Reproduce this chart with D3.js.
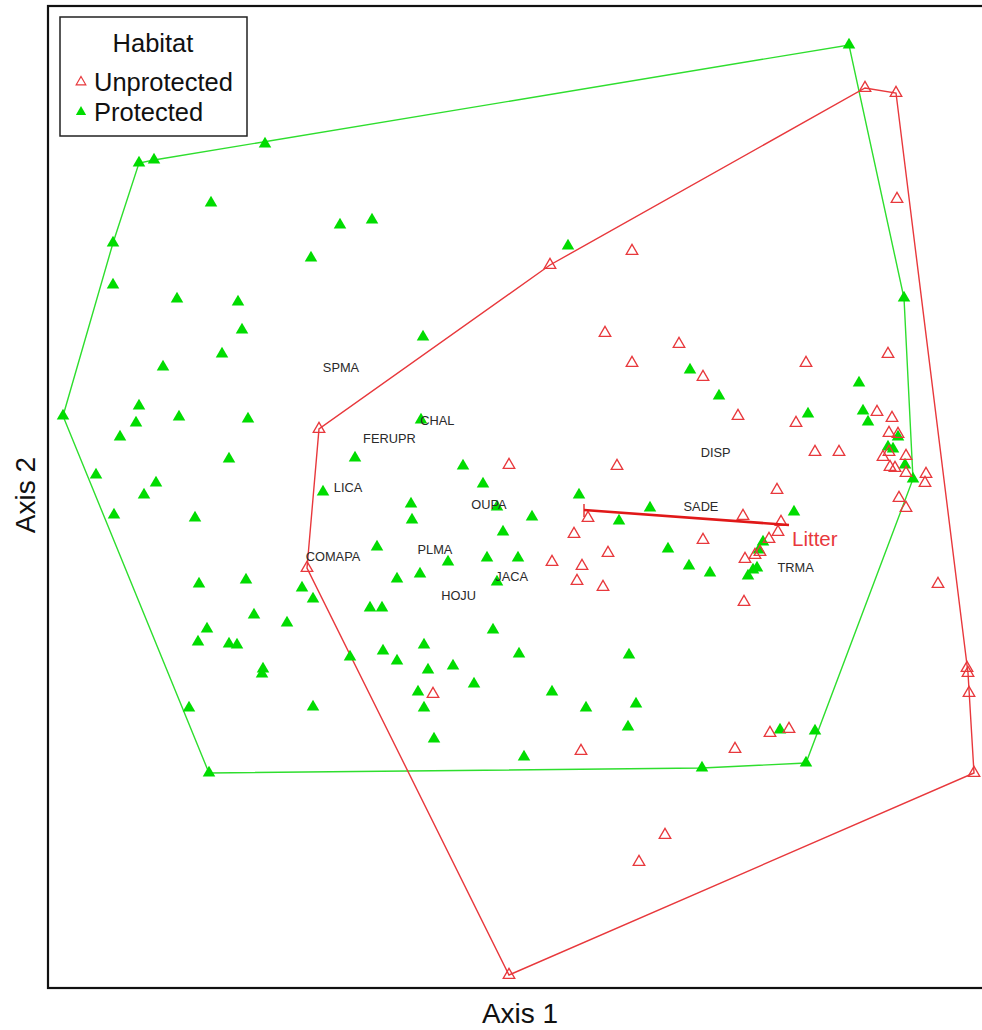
<!DOCTYPE html>
<html>
<head>
<meta charset="utf-8">
<script src="https://cdn.jsdelivr.net/npm/d3@7"></script>
<style>
  html, body { margin: 0; padding: 0; background: #ffffff; }
  svg { display: block; }
</style>
</head>
<body>
<script>
// Site scores on the two ordination axes, by habitat group.
const protectedScores = [
  [-1.545, 1.715], [-1.47, 1.73], [-0.915, 1.81], [2.005, 2.305], [-1.185, 1.515],
  [-1.675, 1.315], [-0.685, 1.24], [-0.54, 1.405], [-0.38, 1.43], [0.6, 1.3],
  [-1.675, 1.105], [-1.355, 1.035], [-1.05, 1.02], [-1.03, 0.88], [-1.13, 0.76],
  [-1.425, 0.695], [-0.125, 0.845], [-1.545, 0.5], [-1.56, 0.415], [-1.345, 0.445],
  [-1.0, 0.435], [-1.925, 0.45], [-1.64, 0.345], [-1.095, 0.235], [-1.76, 0.155],
  [-1.46, 0.115], [-1.52, 0.055], [-1.67, -0.045], [-1.265, -0.06], [-0.625, 0.07],
  [-1.245, -0.39], [-1.01, -0.37], [-0.73, -0.41], [-0.675, -0.465], [-0.97, -0.545],
  [-0.805, -0.585], [-1.205, -0.615], [-1.25, -0.68], [-1.095, -0.69], [-1.055, -0.695],
  [-0.135, 0.43], [-0.465, 0.24], [0.075, 0.2], [0.175, 0.11], [0.655, 0.055],
  [-0.185, 0.01], [0.245, -0.005], [1.01, -0.01], [0.42, -0.055], [-0.18, -0.07],
  [0.855, -0.075], [0.275, -0.13], [-0.355, -0.205], [0.0, -0.28], [0.195, -0.26],
  [0.35, -0.26], [-0.255, -0.365], [-0.14, -0.34], [0.245, -0.38], [-0.39, -0.51],
  [-0.33, -0.51], [0.225, -0.62], [-0.49, -0.755], [-0.325, -0.725], [-0.12, -0.695],
  [-0.255, -0.775], [0.355, -0.74], [0.905, -0.745], [-0.1, -0.82], [0.025, -0.8],
  [0.13, -0.89], [-0.15, -0.93], [-0.12, -1.01], [-0.07, -1.165], [0.52, -0.93],
  [0.69, -1.01], [0.94, -0.99], [0.9, -1.105], [0.38, -1.255], [-0.925, -0.815],
  [-0.93, -0.84], [-1.295, -1.01], [-0.675, -1.005], [-1.195, -1.335], [1.21, 0.68],
  [1.355, 0.55], [2.055, 0.615], [1.8, 0.46], [2.075, 0.475], [2.1, 0.42],
  [2.2, 0.295], [2.25, 0.345], [2.285, 0.205], [2.325, 0.135], [2.28, 1.04],
  [1.73, -0.03], [1.1, -0.215], [1.205, -0.3], [1.31, -0.335], [1.575, -0.18],
  [1.555, -0.22], [1.545, -0.31], [1.525, -0.32], [1.5, -0.35], [1.66, -1.12],
  [1.835, -1.125], [1.27, -1.31], [1.79, -1.285], [2.225, 0.285]
];

const unprotectedScores = [
  [2.085, 2.09], [2.24, 2.065], [2.245, 1.535], [0.51, 1.205], [0.92, 1.275],
  [0.785, 0.865], [0.92, 0.715], [1.155, 0.81], [1.275, 0.645], [1.79, 0.715],
  [2.2, 0.76], [1.45, 0.45], [1.74, 0.415], [2.145, 0.47], [2.22, 0.44],
  [2.205, 0.365], [2.25, 0.36], [1.835, 0.27], [1.955, 0.27], [2.205, 0.27],
  [2.175, 0.245], [2.21, 0.195], [2.235, 0.19], [2.29, 0.25], [2.29, 0.165],
  [2.39, 0.16], [2.385, 0.115], [2.255, 0.04], [2.29, -0.01], [-0.645, 0.385],
  [-0.705, -0.31], [0.305, 0.205], [0.845, 0.2], [0.7, -0.06], [0.63, -0.14],
  [0.8, -0.235], [0.52, -0.28], [0.67, -0.3], [0.645, -0.375], [0.775, -0.405],
  [1.645, 0.08], [1.475, -0.05], [1.665, -0.08], [1.65, -0.13], [1.605, -0.165],
  [1.56, -0.23], [1.535, -0.245], [1.485, -0.265], [1.275, -0.17], [1.48, -0.48],
  [2.45, -0.39], [-0.075, -0.94], [0.665, -1.225], [1.435, -1.215], [1.61, -1.135],
  [1.705, -1.115], [1.085, -1.645], [0.955, -1.78], [0.305, -2.345], [2.6, -0.835],
  [2.605, -0.935], [2.63, -1.335], [2.595, -0.81]
];

// Species centroids shown as text.
const speciesNames = ["SPMA", "CHAL", "FERUPR", "LICA", "OUPA", "PLMA",
                      "JACA", "HOJU", "COMAPA", "DISP", "SADE", "TRMA"];
const speciesX = [-0.535, -0.053, -0.293, -0.5, 0.205, -0.065,
                  0.318, 0.053, -0.575, 1.338, 1.265, 1.738];
const speciesY = [0.695, 0.43, 0.34, 0.095, 0.01, -0.215,
                  -0.35, -0.445, -0.25, 0.27, 0.0, -0.305];

// Environmental joint-plot vector: origin and tip.
const vectorName = "Litter";
const vectorFrom = [0.68, -0.02];
const vectorTo = [1.705, -0.095];

const groups = ["Unprotected", "Protected"];

const W = 982, H = 1030;
const plot = { left: 48, right: 983, top: 6, bottom: 988 };

const x = d3.scaleLinear().domain([-2, 2.675]).range([plot.left, plot.right]);
const y = d3.scaleLinear().domain([-2.41, 2.5]).range([plot.bottom, plot.top]);

const green = "#2ede2e";
const red = "#e8383c";

const svg = d3.select("body").append("svg")
  .attr("width", W).attr("height", H)
  .style("font-family", "'Liberation Sans', Arial, sans-serif");

svg.append("defs").append("clipPath").attr("id", "plotclip")
  .append("rect")
  .attr("x", plot.left).attr("y", plot.top)
  .attr("width", plot.right - plot.left).attr("height", plot.bottom - plot.top);

const g = svg.append("g").attr("clip-path", "url(#plotclip)");

// Convex hulls around each habitat group
function hullPath(pts) {
  const hull = d3.polygonHull(pts.map(p => [x(p[0]), y(p[1])]));
  return "M" + hull.map(p => p.join(",")).join("L") + "Z";
}

g.append("path").attr("d", hullPath(protectedScores))
  .attr("fill", "none").attr("stroke", green).attr("stroke-width", 1.4);
g.append("path").attr("d", hullPath(unprotectedScores))
  .attr("fill", "none").attr("stroke", red).attr("stroke-width", 1.4);

// Site markers
const triFilled = d3.symbol().type(d3.symbolTriangle).size(68);
const triOpen = d3.symbol().type(d3.symbolTriangle).size(58);

g.append("g").selectAll("path").data(protectedScores).join("path")
  .attr("d", triFilled)
  .attr("transform", d => `translate(${x(d[0])},${y(d[1])})`)
  .attr("fill", "#00dc00");

g.append("g").selectAll("path").data(unprotectedScores).join("path")
  .attr("d", triOpen)
  .attr("transform", d => `translate(${x(d[0])},${y(d[1])})`)
  .attr("fill", "none").attr("stroke", red).attr("stroke-width", 1.3);

// Species labels
g.append("g").selectAll("text").data(speciesNames).join("text")
  .attr("x", (d, i) => x(speciesX[i]))
  .attr("y", (d, i) => y(speciesY[i]))
  .attr("text-anchor", "middle")
  .attr("dominant-baseline", "central")
  .attr("font-size", 12.8)
  .attr("fill", "#2a2a2a")
  .text(d => d);

// Litter vector
const vx0 = x(vectorFrom[0]), vy0 = y(vectorFrom[1]);
const vx1 = x(vectorTo[0]), vy1 = y(vectorTo[1]);
g.append("line")
  .attr("x1", vx0).attr("y1", vy0).attr("x2", vx1).attr("y2", vy1)
  .attr("stroke", "#e01818").attr("stroke-width", 2.6);
g.append("line")
  .attr("x1", vx0).attr("y1", vy0 - 6).attr("x2", vx0).attr("y2", vy0 + 7)
  .attr("stroke", "#e01818").attr("stroke-width", 1.3);
g.append("text")
  .attr("x", vx1 + 3).attr("y", vy1 + 21)
  .attr("font-size", 20.5)
  .attr("fill", "#e8383c")
  .text(vectorName);

// Plot frame (right edge runs past the page edge)
svg.append("rect")
  .attr("x", plot.left).attr("y", plot.top)
  .attr("width", plot.right - plot.left + 6).attr("height", plot.bottom - plot.top)
  .attr("fill", "none").attr("stroke", "#111").attr("stroke-width", 2.2);

// Axis titles
svg.append("text")
  .attr("x", 520).attr("y", 1023)
  .attr("text-anchor", "middle")
  .attr("font-size", 28).attr("fill", "#111")
  .text("Axis 1");
svg.append("text")
  .attr("transform", "translate(35,495) rotate(-90)")
  .attr("text-anchor", "middle")
  .attr("font-size", 28).attr("fill", "#111")
  .text("Axis 2");

// Legend
const leg = svg.append("g");
leg.append("rect")
  .attr("x", 60).attr("y", 17).attr("width", 187).attr("height", 119)
  .attr("fill", "#fff").attr("stroke", "#222").attr("stroke-width", 1.5);
leg.append("text")
  .attr("x", 153).attr("y", 52)
  .attr("text-anchor", "middle")
  .attr("font-size", 25.5).attr("fill", "#111")
  .text("Habitat");

const legendRows = [
  { name: groups[0], cy: 82, filled: false },
  { name: groups[1], cy: 112, filled: true }
];
legendRows.forEach(r => {
  leg.append("path")
    .attr("d", d3.symbol().type(d3.symbolTriangle).size(r.filled ? 46 : 40)())
    .attr("transform", `translate(81,${r.cy})`)
    .attr("fill", r.filled ? "#00dc00" : "none")
    .attr("stroke", r.filled ? "none" : red)
    .attr("stroke-width", 1.2);
  leg.append("text")
    .attr("x", 94).attr("y", r.cy + 9)
    .attr("font-size", 25.5).attr("fill", "#111")
    .text(r.name);
});
</script>
</body>
</html>
